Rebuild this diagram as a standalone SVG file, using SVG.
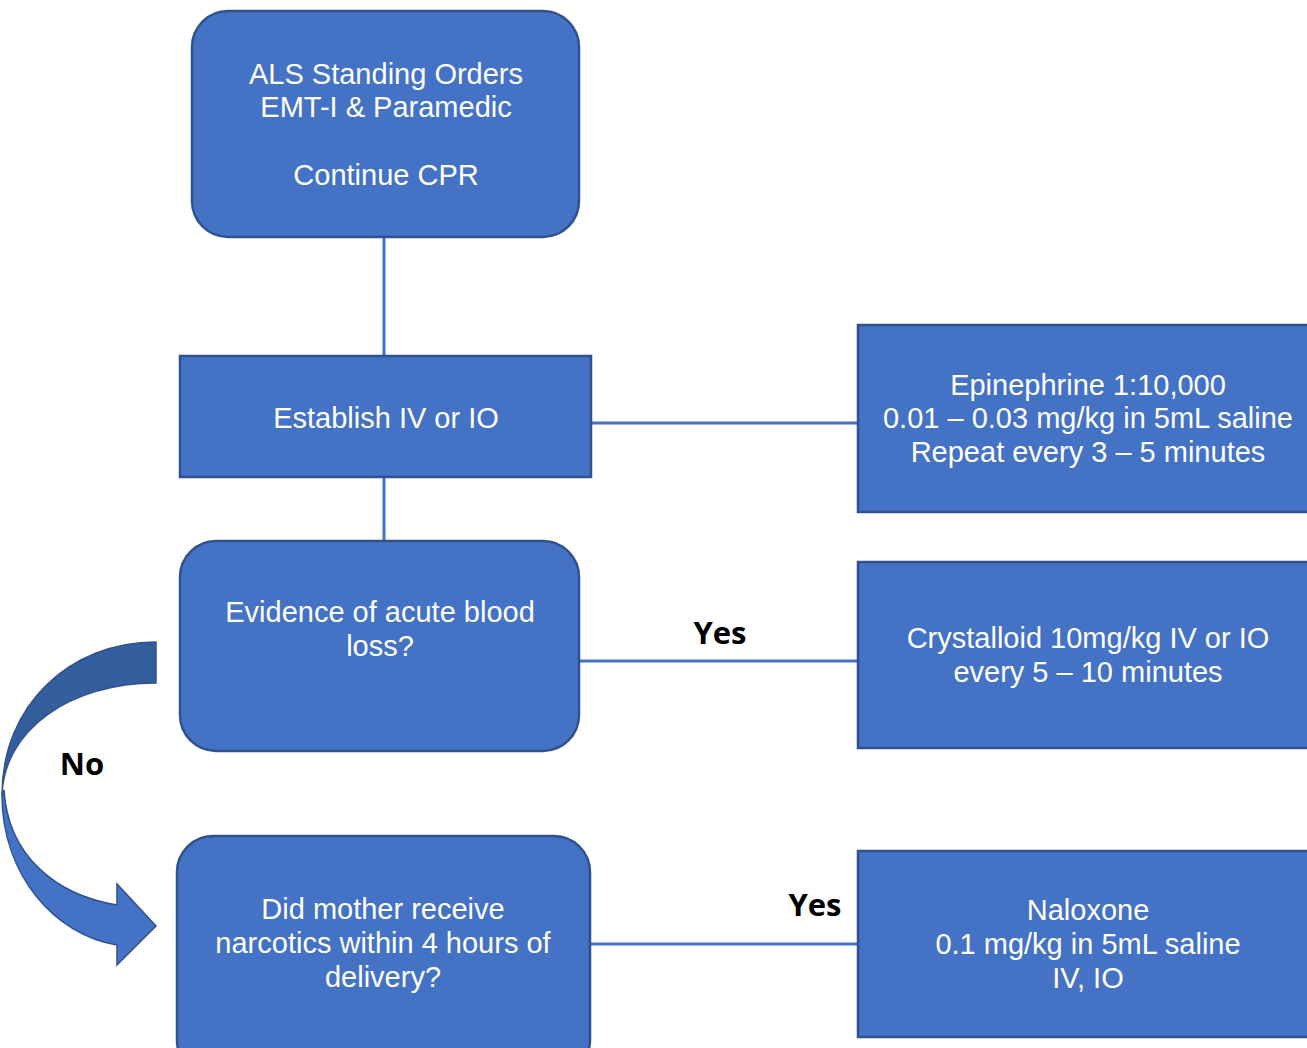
<svg xmlns="http://www.w3.org/2000/svg" width="1307" height="1048" viewBox="0 0 1307 1048">
<style>
.box{fill:#4472C4;stroke:#2F528F;stroke-width:2.5}
.t{font-family:"Liberation Sans",Arial,sans-serif;font-size:29px;fill:#fff;text-anchor:middle}
.lbl{font-family:"Open Sans","Liberation Sans",sans-serif;font-weight:bold;font-size:31px;fill:#000;text-anchor:middle}
.ln{stroke:#4472C4;stroke-width:3;fill:none}
</style>
<rect width="1307" height="1048" fill="#fff"/>
<g id="connectors">
<line class="ln" x1="384" y1="237" x2="384" y2="356"/>
<line class="ln" x1="384" y1="477" x2="384" y2="541"/>
<line class="ln" x1="591" y1="423" x2="858" y2="423"/>
<line class="ln" x1="579" y1="661" x2="858" y2="661"/>
<line class="ln" x1="590" y1="944" x2="858" y2="944"/>
<g id="no-arrow">
<path d="M156,642 C70,642 2,705 2,795 C4,730 70,683 156,683 Z" fill="#345D9D" stroke="#2F528F" stroke-width="1.5"/>
<path d="M2,795 C2,875 55,935 117,945 L117,965 L156,926 L117,884 L117,905 C55,895 8,855 4,790 Z" fill="#4472C4" stroke="#2F528F" stroke-width="1.5"/>
</g>
<text class="lbl" x="720" y="644">Yes</text>
<text class="lbl" x="815" y="916">Yes</text>
<text class="lbl" x="82" y="775">No</text>
</g>
<g id="n1">
<rect class="box" x="192" y="11" width="387" height="226" rx="36"/>
<text class="t" x="386" y="84">ALS Standing Orders</text>
<text class="t" x="386" y="117">EMT-I &amp; Paramedic</text>
<text class="t" x="386" y="185">Continue CPR</text>
</g>
<g id="n2">
<rect class="box" x="180" y="356" width="411" height="121"/>
<text class="t" x="386" y="428">Establish IV or IO</text>
</g>
<g id="n3">
<rect class="box" x="858" y="325" width="455" height="187"/>
<text class="t" x="1088" y="395">Epinephrine 1:10,000</text>
<text class="t" x="1088" y="428">0.01 – 0.03 mg/kg in 5mL saline</text>
<text class="t" x="1088" y="462">Repeat every 3 – 5 minutes</text>
</g>
<g id="n4">
<rect class="box" x="180" y="541" width="399" height="210" rx="36"/>
<text class="t" x="380" y="622">Evidence of acute blood</text>
<text class="t" x="380" y="656">loss?</text>
</g>
<g id="n5">
<rect class="box" x="858" y="562" width="455" height="186"/>
<text class="t" x="1088" y="648">Crystalloid 10mg/kg IV or IO</text>
<text class="t" x="1088" y="682">every 5 – 10 minutes</text>
</g>
<g id="n6">
<rect class="box" x="177" y="836" width="413" height="240" rx="36"/>
<text class="t" x="383" y="919">Did mother receive</text>
<text class="t" x="383" y="953">narcotics within 4 hours of</text>
<text class="t" x="383" y="987">delivery?</text>
</g>
<g id="n7">
<rect class="box" x="858" y="851" width="455" height="186"/>
<text class="t" x="1088" y="920">Naloxone</text>
<text class="t" x="1088" y="954">0.1 mg/kg in 5mL saline</text>
<text class="t" x="1088" y="988">IV, IO</text>
</g>
</svg>
